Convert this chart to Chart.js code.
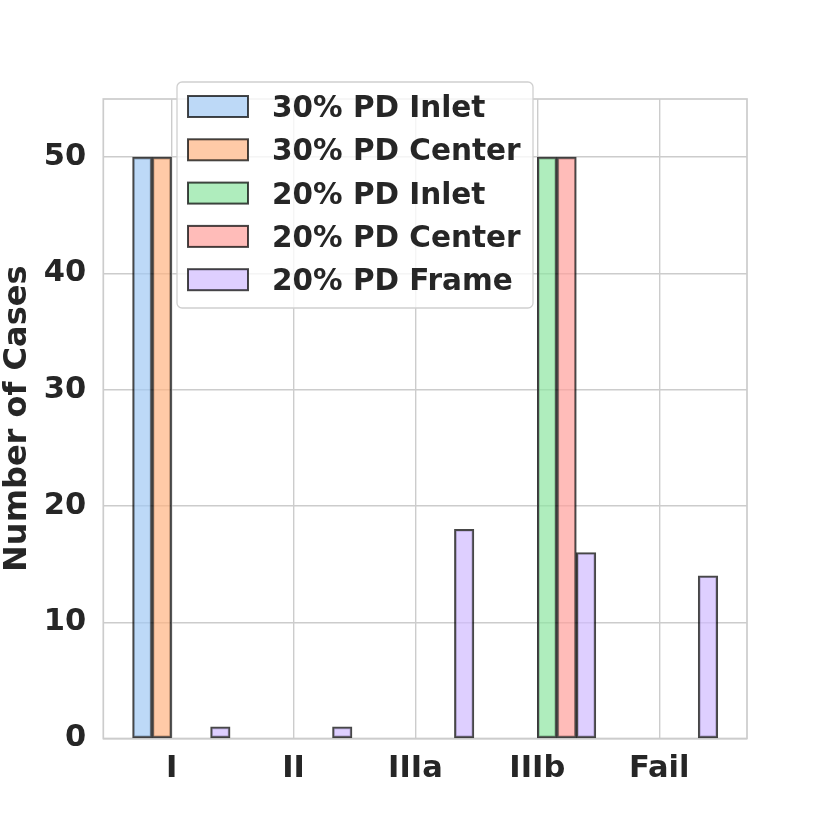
<!DOCTYPE html>
<html>
<head>
<meta charset="utf-8">
<script src="https://cdn.jsdelivr.net/npm/chart.js@4/dist/chart.umd.min.js"></script>
<style>
  html, body { margin: 0; padding: 0; background: #fff; }
</style>
</head>
<body>
<canvas id="myChart" width="830" height="830"></canvas>
<script>
const categories = ["I", "II", "IIIa", "IIIb", "Fail"];

const seriesNames = [
  "30% PD Inlet",
  "30% PD Center",
  "20% PD Inlet",
  "20% PD Center",
  "20% PD Frame"
];

const inlet30 = [50, 0, 0, 0, 0];
const center30 = [50, 0, 0, 0, 0];
const inlet20 = [0, 0, 0, 50, 0];
const center20 = [0, 0, 0, 50, 0];
const frame20 = [1, 1, 18, 16, 14];

const yTicks = [0, 10, 20, 30, 40, 50];

// seaborn pastel, alpha 0.7
const colors = [
  "rgba(161, 201, 244, 0.7)",
  "rgba(255, 180, 130, 0.7)",
  "rgba(141, 229, 161, 0.7)",
  "rgba(255, 159, 155, 0.7)",
  "rgba(208, 187, 255, 0.7)"
];
const edge = "rgba(0, 0, 0, 0.72)";
const textColor = "#262626";
const font = "'DejaVu Sans', sans-serif";

const barWidth = 0.16;
const allSeries = [inlet30, center30, inlet20, center20, frame20];

const datasets = allSeries.map((values, k) => ({
  label: seriesNames[k],
  backgroundColor: colors[k],
  borderColor: edge,
  borderWidth: 2,
  borderSkipped: false,
  grouped: false,
  barPercentage: 1,
  categoryPercentage: 1,
  data: values.map((v, i) => ({ x: i + (k - 1.5) * barWidth, y: v }))
}));

// frame round the axes and legend inside
const framePlugin = {
  id: "frame",
  beforeDatasetsDraw(chart) {
    const { ctx, chartArea: a } = chart;
    ctx.save();
    ctx.strokeStyle = "#cccccc";
    ctx.lineWidth = 1.7;
    ctx.strokeRect(a.left, a.top, a.right - a.left, a.bottom - a.top);
    ctx.restore();
  },
  afterDraw(chart) {
    const ctx = chart.ctx;
    const bx = 177, by = 82, bw = 356, bh = 226, r = 5;
    ctx.save();
    ctx.beginPath();
    ctx.roundRect(bx, by, bw, bh, r);
    ctx.fillStyle = "rgba(255,255,255,0.8)";
    ctx.fill();
    ctx.strokeStyle = "#d0d0d0";
    ctx.lineWidth = 1.3;
    ctx.stroke();
    ctx.font = "bold 29.5px " + font;
    ctx.textBaseline = "alphabetic";
    ctx.textAlign = "left";
    chart.data.datasets.forEach((ds, k) => {
      const cy = 106.5 + k * 43.3;
      ctx.fillStyle = "#ffffff";
      ctx.fillRect(188, cy - 10.5, 60, 21);
      ctx.fillStyle = ds.backgroundColor;
      ctx.fillRect(188, cy - 10.5, 60, 21);
      ctx.strokeStyle = edge;
      ctx.lineWidth = 2;
      ctx.strokeRect(188, cy - 10.5, 60, 21);
      ctx.fillStyle = textColor;
      ctx.fillText(ds.label, 272, cy + 10.5);
    });
    ctx.restore();
  }
};

const config = {
  type: "bar",
  data: { datasets: datasets },
  options: {
    responsive: false,
    animation: false,
    layout: { padding: { top: 99, right: 83, bottom: 0, left: 0 } },
    plugins: {
      legend: { display: false },
      tooltip: { enabled: false }
    },
    scales: {
      x: {
        type: "linear",
        min: -0.56,
        max: 4.72,
        offset: false,
        afterFit: s => { s.height = 91.5; },
        afterBuildTicks: s => { s.ticks = categories.map((c, i) => ({ value: i })); },
        ticks: {
          padding: 12,
          color: textColor,
          font: { family: font, size: 30.5, weight: "bold" },
          callback: v => categories[v]
        },
        grid: { color: "#cccccc", lineWidth: 1.4, drawTicks: false, offset: false },
        border: { display: false }
      },
      y: {
        min: 0,
        max: 55,
        afterFit: s => { s.width = 103.3; },
        afterBuildTicks: s => { s.ticks = yTicks.map(v => ({ value: v })); },
        ticks: {
          padding: 17,
          color: textColor,
          font: { family: font, size: 30.5, weight: "bold" }
        },
        grid: { color: "#cccccc", lineWidth: 1.4, drawTicks: false },
        border: { display: false },
        title: {
          display: true,
          text: "Number of Cases",
          color: textColor,
          padding: { top: 2 },
          font: { family: font, size: 32, weight: "bold", lineHeight: 1 }
        }
      }
    }
  },
  plugins: [framePlugin]
};

const myChart = new Chart(document.getElementById("myChart"), config);
</script>
</body>
</html>
